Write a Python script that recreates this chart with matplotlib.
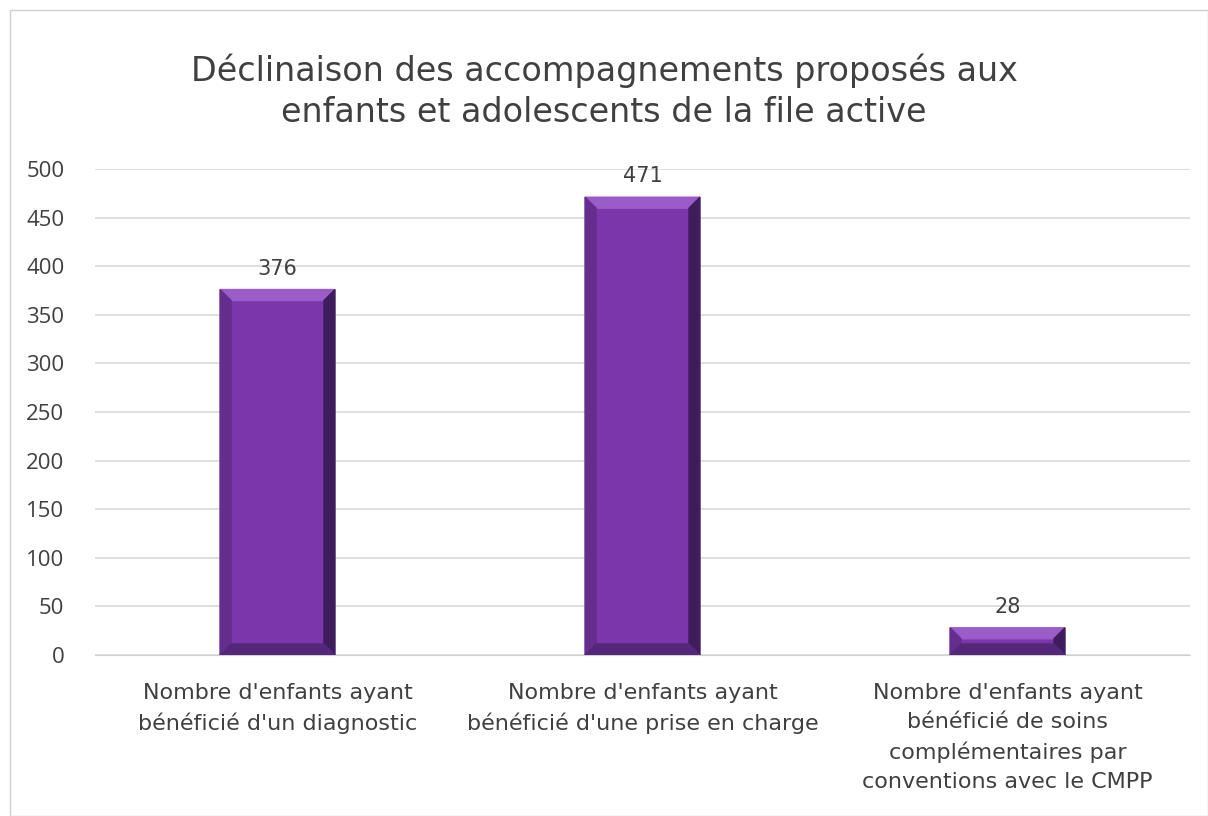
import numpy as np
import matplotlib.pyplot as plt
from matplotlib.patches import Polygon, Rectangle

# donnees
categories = ["Nombre d'enfants ayant\nbénéficié d'un diagnostic",
              "Nombre d'enfants ayant\nbénéficié d'une prise en charge",
              "Nombre d'enfants ayant\nbénéficié de soins\ncomplémentaires par\nconventions avec le CMPP"]
values = [376, 471, 28]
yticks = [0, 50, 100, 150, 200, 250, 300, 350, 400, 450, 500]
title = "Déclinaison des accompagnements proposés aux\nenfants et adolescents de la file active"

plt.rcParams['font.family'] = ['DejaVu Sans']
num_font = ['Open Sans', 'DejaVu Sans']

fig = plt.figure(figsize=(12.08, 8.16), dpi=100)
fig.patches.append(Rectangle((10/1208, 0), 1 - 10/1208, 1 - 10/816, transform=fig.transFigure,
                             fill=False, edgecolor='#d0d0d0', lw=1))
ax = fig.add_axes([95/1208, 1 - 655/816, 1095/1208, 486/816])

x = np.arange(len(values))
w = 0.315
bars = ax.bar(x, values, width=w, color='#7a36aa', zorder=3)
ax.set_xlim(-0.5, len(values) - 0.5)
ax.set_ylim(0, 500)

# biseau (pixels -> donnees)
bx = 11 / 1095 * len(values)
by = 11 / 486 * 500
for b in bars:
    x0, x1 = b.get_x(), b.get_x() + b.get_width()
    h = b.get_height()
    top = Polygon([(x0, h), (x1, h), (x1 - bx, h - by), (x0 + bx, h - by)], color='#9a5cc9', zorder=4)
    left = Polygon([(x0, 0), (x0, h), (x0 + bx, h - by), (x0 + bx, by)], color='#652d8e', zorder=4)
    right = Polygon([(x1, 0), (x1, h), (x1 - bx, h - by), (x1 - bx, by)], color='#3f1c5c', zorder=4)
    bot = Polygon([(x0, 0), (x1, 0), (x1 - bx, by), (x0 + bx, by)], color='#55277a', zorder=4)
    for p in (top, left, right, bot):
        ax.add_patch(p)
    ax.text(b.get_x() + b.get_width() / 2, h + 11, str(int(h)), ha='center', va='bottom',
            fontsize=15, color='#404040', zorder=5)

ax.set_yticks(yticks)
ax.set_xticks(x)
ax.set_xticklabels(categories, fontsize=16, color='#404040', linespacing=1.55)
ax.set_yticklabels([str(t) for t in yticks], family=num_font)
ax.tick_params(axis='y', labelsize=16, labelcolor='#404040', length=0, pad=22)
ax.tick_params(axis='x', length=0, pad=20)
ax.grid(axis='y', color='#d9d9d9', lw=1.2, zorder=0)
for s in ['top', 'right', 'left']:
    ax.spines[s].set_visible(False)
ax.spines['bottom'].set_color('#d0d0d0')

fig.text(0.5, 1 - 91/816, title, ha='center', va='center', fontsize=24, color='#404040', linespacing=1.3)

fig.savefig('out.png', dpi=100)
